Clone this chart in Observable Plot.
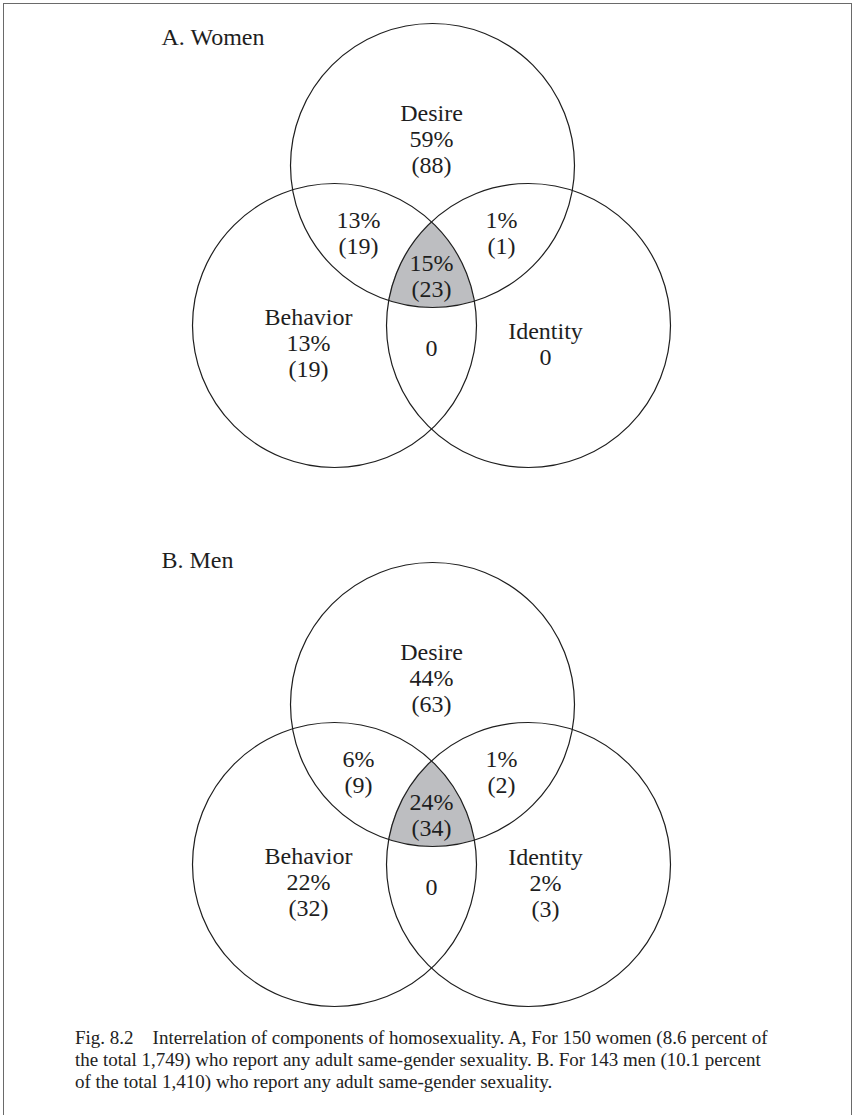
<!DOCTYPE html>
<html>
<head>
<meta charset="utf-8">
<script src="https://cdn.jsdelivr.net/npm/d3@7"></script>
<script src="https://cdn.jsdelivr.net/npm/@observablehq/plot@0.6"></script>
<style>
  html, body { margin: 0; padding: 0; background: #fff; }
  body { width: 857px; height: 1115px; overflow: hidden; position: relative; font-family: "Liberation Serif", "Times New Roman", serif; }
  #frame { position: absolute; left: 3px; top: 3px; width: 849px; height: 1200px; border: 1.5px solid #6a6a6a; box-sizing: border-box; }
  #chart { position: absolute; left: 0; top: 0; }
  #caption { position: absolute; left: 75px; top: 1027px; width: 760px; font-size: 19px; line-height: 22px; color: #222; white-space: nowrap; }
</style>
</head>
<body>
<div id="frame"></div>
<div id="chart"></div>
<div id="caption">Fig. 8.2&nbsp;&nbsp;&nbsp; Interrelation of components of homosexuality. A, For 150 women (8.6 percent of<br>the total 1,749) who report any adult same-gender sexuality. B. For 143 men (10.1 percent<br>of the total 1,410) who report any adult same-gender sexuality.</div>
<script>
// ---- data ----
const panels = ["A. Women", "B. Men"];
const regions = ["Desire", "Desire+Behavior", "Desire+Identity", "All three", "Behavior", "Behavior+Identity", "Identity"];
const regionNames = ["Desire", "", "", "", "Behavior", "", "Identity"];
const womenPct = [59, 13, 1, 15, 13, 0, 0];
const womenN   = [88, 19, 1, 23, 19, 0, 0];
const menPct   = [44, 6, 1, 24, 22, 0, 2];
const menN     = [63, 9, 2, 34, 32, 0, 3];
const sets = ["Desire", "Behavior", "Identity"];

// ---- layout (pixels) ----
const W = 857, H = 1015, R = 142;
const panelDy = [0, 539];
const titleY = [37, 560];
const setCenters = {Desire: [432, 165], Behavior: [334, 325], Identity: [528, 325]};
const labelPos = {
  "Desire": [431, 138],
  "Desire+Behavior": [358, 232],
  "Desire+Identity": [501, 232],
  "All three": [431, 275],
  "Behavior": [308, 342],
  "Behavior+Identity": [431, 347],
  "Identity": [545, 343]
};
const titleX = 161;

const pct = [womenPct, menPct];
const cnt = [womenN, menN];

const circles = [];
panels.forEach((p, i) => sets.forEach(s => circles.push({panel: p, x: setCenters[s][0], y: setCenters[s][1] + panelDy[i]})));

const labels = [];
panels.forEach((p, i) => regions.forEach((rg, j) => {
  const v = pct[i][j], n = cnt[i][j];
  const body = n === 0 ? "0" : `${v}%\n(${n})`;
  const text = regionNames[j] ? `${regionNames[j]}\n${body}` : body;
  labels.push({panel: p, x: labelPos[rg][0], y: labelPos[rg][1] + panelDy[i], text});
}));

const titles = panels.map((p, i) => ({text: p, x: titleX, y: titleY[i]}));

// triple-intersection region, derived from the circles
const core = [];
panels.forEach((p, i) => {
  const cs = sets.map(s => [setCenters[s][0], setCenters[s][1] + panelDy[i]]);
  for (let x = 300; x <= 560; x += 0.5) {
    let top = -Infinity, bot = Infinity, ok = true;
    for (const [cx, cy] of cs) {
      const d = R * R - (x - cx) * (x - cx);
      if (d < 0) { ok = false; break; }
      const h = Math.sqrt(d);
      top = Math.max(top, cy - h);
      bot = Math.min(bot, cy + h);
    }
    if (ok && top < bot) core.push({panel: p, x, y1: top, y2: bot});
  }
});

const font = "Liberation Serif";
const chart = Plot.plot({
  width: W, height: H, margin: 0,
  x: {domain: [0, W], range: [0, W], axis: null},
  y: {domain: [0, H], range: [0, H], axis: null},
  style: {background: "transparent", fontFamily: font},
  marks: [
    Plot.areaY(core, {x: "x", y1: "y1", y2: "y2", z: "panel", fill: "#bdbec1"}),
    Plot.dot(circles, {x: "x", y: "y", r: R, fill: "none", stroke: "#1e1e1e", strokeWidth: 1.2}),
    Plot.text(labels, {x: "x", y: "y", text: "text", fontSize: 24, lineHeight: 1.08, fontFamily: font, fill: "#1e1e1e"}),
    Plot.text(titles, {x: "x", y: "y", text: "text", textAnchor: "start", fontSize: 24, fontFamily: font, fill: "#1e1e1e"})
  ]
});
document.getElementById("chart").appendChild(chart);
</script>
</body>
</html>
